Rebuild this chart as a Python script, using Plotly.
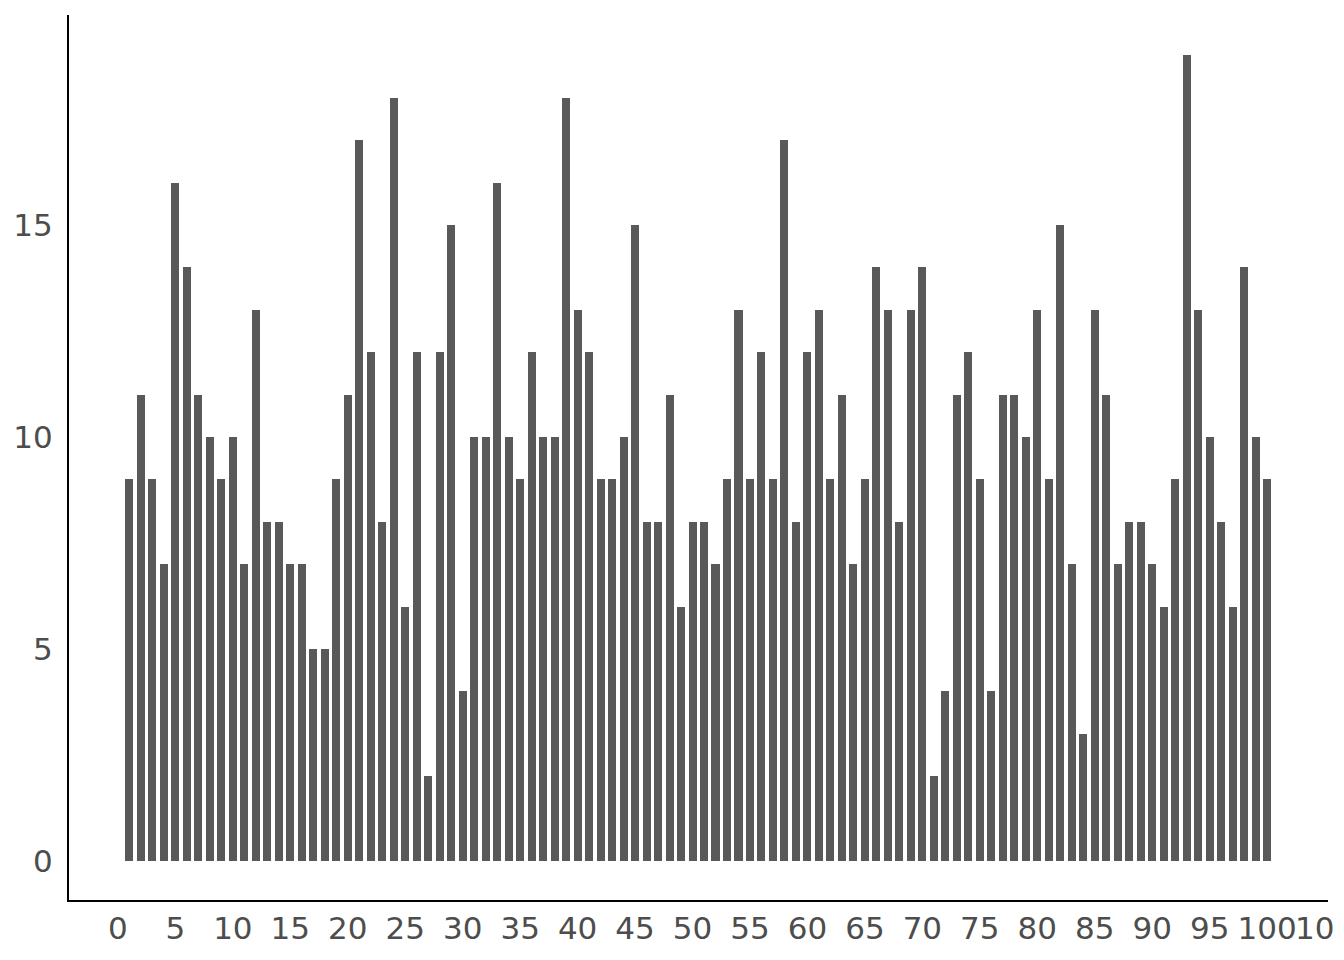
import plotly.graph_objects as go

x_vals = list(range(1, 101))
y_vals = [9, 11, 9, 7, 16, 14, 11, 10, 9, 10,
          7, 13, 8, 8, 7, 7, 5, 5, 9, 11,
          17, 12, 8, 18, 6, 12, 2, 12, 15, 4,
          10, 10, 16, 10, 9, 12, 10, 10, 18, 13,
          12, 9, 9, 10, 15, 8, 8, 11, 6, 8,
          8, 7, 9, 13, 9, 12, 9, 17, 8, 12,
          13, 9, 11, 7, 9, 14, 13, 8, 13, 14,
          2, 4, 11, 12, 9, 4, 11, 11, 10, 13,
          9, 15, 7, 3, 13, 11, 7, 8, 8, 7,
          6, 9, 19, 13, 10, 8, 6, 14, 10, 9]
x_ticks = list(range(0, 106, 5))
y_ticks = [0, 5, 10, 15]

fig = go.Figure(go.Bar(x=x_vals, y=y_vals, width=0.7,
                       marker=dict(color="#595959", line=dict(width=0))))

fig.update_layout(
    width=1344, height=960,
    margin=dict(l=61, r=24, t=7, b=68, autoexpand=False),
    paper_bgcolor="white", plot_bgcolor="white",
    font=dict(family="DejaVu Sans", size=31, color="#4d4d4d"),
    showlegend=False,
    bargap=0,
)
fig.update_xaxes(range=[-4.26, 105.3], tickvals=x_ticks, ticktext=[str(t) for t in x_ticks],
                 tickangle=0,
                 showgrid=False, zeroline=False, showline=True, linecolor="black", linewidth=2,
                 ticks="", ticklen=0, automargin=False, ticklabeloverflow="allow")
fig.update_yaxes(range=[-0.92, 19.95], tickvals=y_ticks,
                 showgrid=False, zeroline=False, showline=True, linecolor="black", linewidth=2,
                 ticks="outside", ticklen=8, tickcolor="white", automargin=False)

fig.write_html("out.html")
